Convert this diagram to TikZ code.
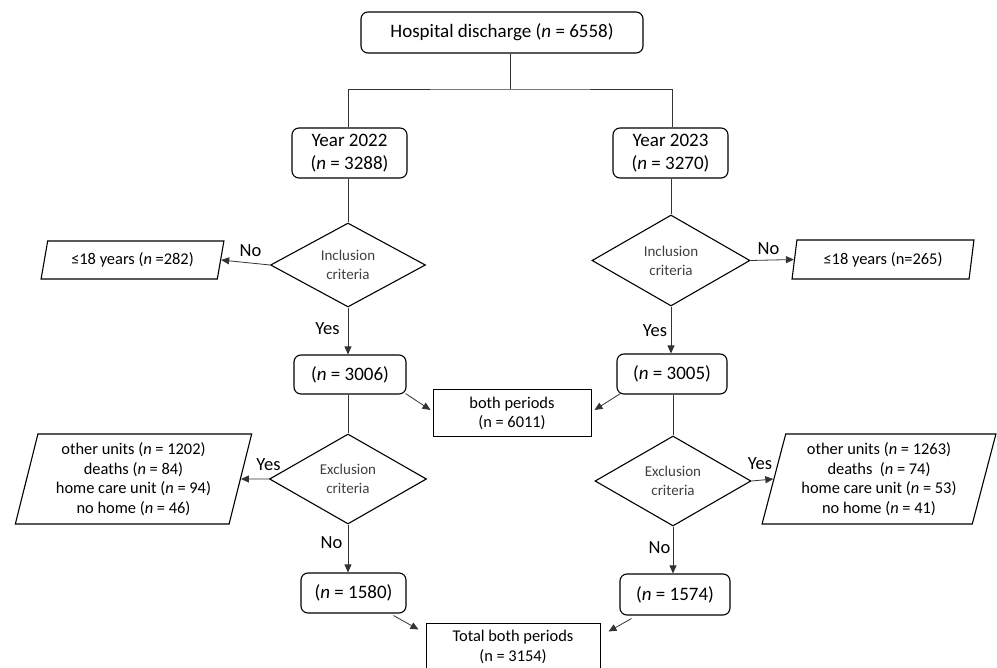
\documentclass[tikz,border=0pt]{standalone}
\usepackage{fontspec}
\setmainfont{Carlito}
\usetikzlibrary{shapes.geometric,arrows.meta,calc}
\begin{document}
\begin{tikzpicture}[x=1pt,y=-1pt,
 rbox/.style={draw,rounded corners=7pt,line width=1.1pt,align=center,inner sep=0pt,font=\fontsize{19}{23}\selectfont},
 sbox/.style={draw,line width=1pt,align=center,inner sep=0pt,font=\fontsize{16.4}{19.5}\selectfont},
 dia/.style={diamond,aspect=1.8,draw,line width=1.1pt,inner sep=0pt,align=center,text=black!75,font=\fontsize{15}{19}\selectfont},
 para/.style={trapezium,trapezium stretches=true,draw,line width=1.1pt,inner sep=0pt,align=center,font=\fontsize{16.4}{19.7}\selectfont},
 conn/.style={draw=black!80,line width=0.8pt},
 arr/.style={conn,-{Triangle[length=8pt,width=7pt]}},
 lab/.style={anchor=base,inner sep=0pt,font=\fontsize{18.5}{22}\selectfont}]
\useasboundingbox (0,0) rectangle (997,668);

% nodes
\node[rbox,minimum width=282,minimum height=41] (top) at (502,32.5) {Hospital discharge (\textit{n} = 6558)};
\node[rbox,minimum width=115,minimum height=50] (y22) at (349.5,153) {Year 2022\\(\textit{n} = 3288)};
\node[rbox,minimum width=115,minimum height=50] (y23) at (670.5,153) {Year 2023\\(\textit{n} = 3270)};
\node[dia,minimum width=155,minimum height=84] (inL) at (348,265) {Inclusion\\criteria};
\node[dia,minimum width=158,minimum height=91] (inR) at (671,260.5) {Inclusion\\criteria};
\node[para,minimum width=183,minimum height=38,trapezium left angle=72,trapezium right angle=108] (pL) at (132.5,260) {≤18 years (\textit{n} =282)};
\node[para,minimum width=182,minimum height=39,trapezium left angle=77,trapezium right angle=103] (pR) at (883,259.5) {≤18 years (n=265)};
\node[rbox,minimum width=112,minimum height=39] (n3006) at (350,374.5) {(\textit{n} = 3006)};
\node[rbox,minimum width=110,minimum height=40] (n3005) at (672,374) {(\textit{n} = 3005)};
\node[sbox,minimum width=158,minimum height=47] (both) at (512,413.5) {both periods\\(n = 6011)};
\node[dia,minimum width=157,minimum height=90] (exL) at (348,479) {Exclusion\\criteria};
\node[dia,minimum width=156,minimum height=90] (exR) at (673,481) {Exclusion\\criteria};
\node[para,minimum width=237,minimum height=90,trapezium left angle=76,trapezium right angle=104] (qL) at (133.5,479) {other units (\textit{n} = 1202)\\deaths (\textit{n} = 84)\\home care unit (\textit{n} = 94)\\no home (\textit{n} = 46)};
\node[para,minimum width=234,minimum height=90,trapezium left angle=75,trapezium right angle=105] (qR) at (879,479) {other units (\textit{n} = 1263)\\deaths\ \ (\textit{n} = 74)\\home care unit (\textit{n} = 53)\\no home (\textit{n} = 41)};
\node[rbox,minimum width=105,minimum height=40] (n1580) at (353.5,593) {(\textit{n} = 1580)};
\node[rbox,minimum width=110,minimum height=41] (n1574) at (675,594.5) {(\textit{n} = 1574)};
\node[sbox,minimum width=174,minimum height=48] (tot) at (513,647) {Total both periods\\(n = 3154)};

% connectors
\coordinate (j) at (510,89);
\draw[conn] (top.south -| j) -- (j);
\draw[conn] (y22.north -| inL.north) |- (j) -| (y23.north -| n3005.north);
\draw[conn] (inL.north |- y22.south) -- (inL.north);
\draw[conn] (inR.north |- y23.south) -- (inR.north);
\draw[arr] (inL.west) -- (pL.east);
\draw[arr] (inR.east) -- (pR.west);
\draw[arr] (inL.south) -- (inL.south |- n3006.north);
\draw[arr] (inR.south) -- (inR.south |- n3005.north);
\draw[conn] (exL.north |- n3006.south) -- (exL.north);
\draw[conn] (exR.north |- n3005.south) -- (exR.north);
\draw[arr] (exL.west) -- (qL.east);
\draw[arr] (exR.east) -- (qR.west);
\draw[arr] (exL.south) -- (exL.south |- n1580.north);
\draw[arr] (exR.south) -- (exR.south |- n1574.north);
\draw[arr] ($(n3006.south east)+(-1,-1)$) -- ($(both.west)+(-2,-3.5)$);
\draw[arr] ($(n3005.south west)+(4,-1)$) -- ($(both.east)+(3,-3.5)$);
\draw[arr] ($(n1580.south east)+(-13,2)$) -- ($(tot.north west)+(-7,7)$);
\draw[arr] ($(n1574.south west)+(12,3)$) -- ($(tot.north east)+(8,9)$);

% labels
\node[lab] (l1) at (250.5,257) {No};
\node[lab] (l2) at (327.5,335) {Yes};
\node[lab] (l3) at (268.5,471) {Yes};
\node[lab] (l4) at (331.5,548) {No};
\node[lab] (l5) at (768.5,255) {No};
\node[lab] (l6) at (655,337) {Yes};
\node[lab] (l7) at (760,470) {Yes};
\node[lab] (l8) at (659.5,553) {No};
\end{tikzpicture}
\end{document}
